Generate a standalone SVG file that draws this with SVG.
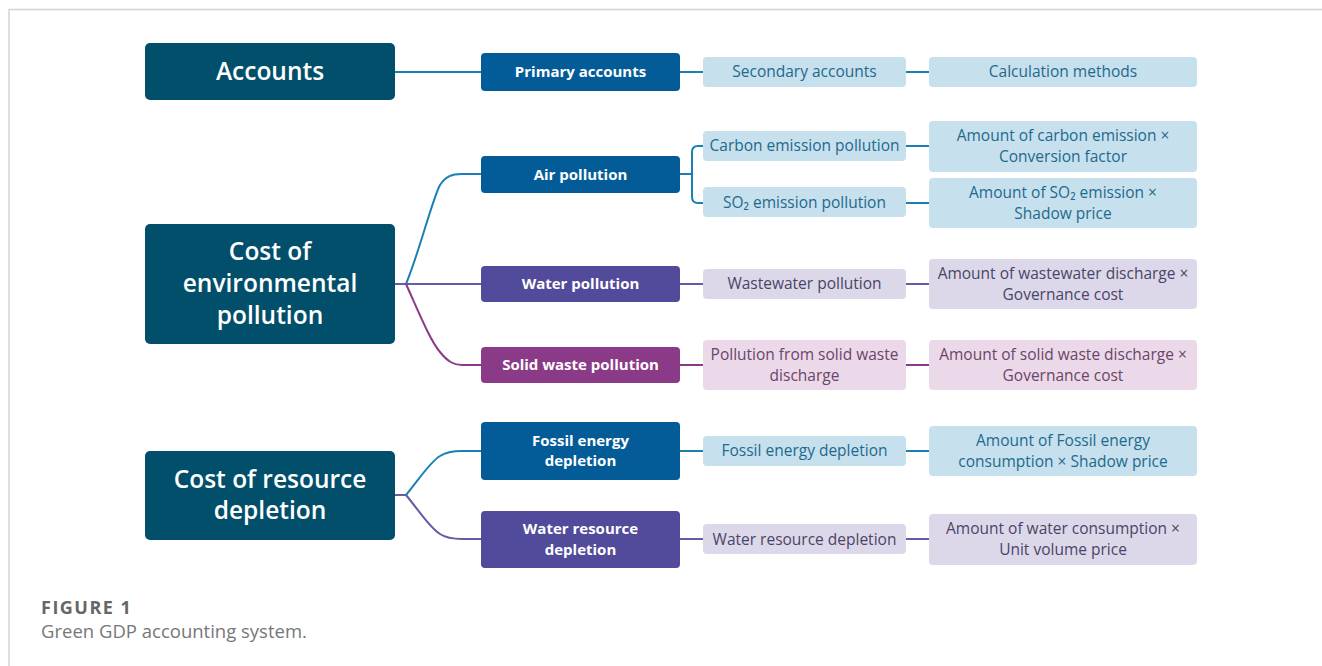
<svg xmlns="http://www.w3.org/2000/svg" width="1322" height="666" viewBox="0 0 1322 666">
<style>
text{font-family:"Open Sans","Liberation Sans",sans-serif;text-anchor:middle}
.root rect{fill:#024f6b}
.root text{fill:#fff;font-size:24.5px;font-weight:600}
.p text{fill:#fff;font-size:15px;font-weight:700}
.s text,.c text{font-size:15.5px}
.bl rect.n{fill:#035c98}
.pu rect.n{fill:#524a9a}
.mg rect.n{fill:#8a3a87}
.sb rect{fill:#c7e0ed}.sb text{fill:#1d6a8c}
.sp rect{fill:#ddd8e9}.sp text{fill:#4a4468}
.sm rect{fill:#ebd9ea}.sm text{fill:#6a4568}
.cb{fill:none;stroke:#1a80b3;stroke-width:2}
.cp{fill:none;stroke:#675aa6;stroke-width:2}
.cm{fill:none;stroke:#8a3a87;stroke-width:2}
</style>
<rect width="1322" height="666" fill="#fff"/>
<path d="M9 666V9.5H1322" fill="none" stroke="#d4d4d4" stroke-width="1.5"/>
<g id="connectors">
<path class="cb" d="M395 72H481M680 72H703M906 72H929"/>
<path class="cb" d="M406 284C420 250 432 200 440 185C446 176 452 174 462 174H481"/>
<path class="cp" d="M395 284H481"/>
<path class="cm" d="M406 284C420 315 430 340 440 352C448 362 454 365 462 365H481"/>
<path class="cb" d="M680 174H692M703 146H698Q692 146 692 152V197Q692 203 698 203H703M906 146H929M906 203H929"/>
<path class="cp" d="M680 284H703M906 284H929"/>
<path class="cm" d="M680 365H703M906 365H929"/>
<path class="cp" d="M395 495H406"/>
<path class="cb" d="M406 495C420 478 430 462 440 456C446 452 452 451 462 451H481M680 451H703M906 451H929"/>
<path class="cp" d="M406 495C420 512 430 528 440 534C446 538 452 539 462 539H481M680 539H703M906 539H929"/>
</g>
<g id="accounts" class="root"><rect x="145" y="43" width="250" height="57" rx="5"/><text x="270" y="80">Accounts</text></g>
<g id="env" class="root"><rect x="145" y="224" width="250" height="120" rx="5"/><text x="270" y="260">Cost of</text><text x="270" y="292">environmental</text><text x="270" y="324">pollution</text></g>
<g id="res" class="root"><rect x="145" y="451" width="250" height="89" rx="5"/><text x="270" y="488">Cost of resource</text><text x="270" y="519">depletion</text></g>

<g id="primary" class="p bl"><rect class="n" x="481" y="53" width="199" height="38" rx="4"/><text x="580.5" y="77">Primary accounts</text></g>
<g id="secondary" class="s sb"><rect x="703" y="57" width="203" height="30" rx="4"/><text x="804.5" y="77">Secondary accounts</text></g>
<g id="calc" class="c sb"><rect x="929" y="57" width="268" height="30" rx="4"/><text x="1063" y="77">Calculation methods</text></g>

<g id="air" class="p bl"><rect class="n" x="481" y="156" width="199" height="37" rx="4"/><text x="580.5" y="180">Air pollution</text></g>
<g id="carbon" class="s sb"><rect x="703" y="131" width="203" height="30" rx="4"/><text x="804.5" y="151">Carbon emission pollution</text></g>
<g id="so2" class="s sb"><rect x="703" y="187" width="203" height="30" rx="4"/><text x="804.5" y="208">SO₂ emission pollution</text></g>
<g id="carbonCalc" class="c sb"><rect x="929" y="121" width="268" height="51" rx="4"/><text x="1063" y="141">Amount of carbon emission ×</text><text x="1063" y="162">Conversion factor</text></g>
<g id="so2Calc" class="c sb"><rect x="929" y="178" width="268" height="50" rx="4"/><text x="1063" y="198">Amount of SO₂ emission ×</text><text x="1063" y="219">Shadow price</text></g>

<g id="water" class="p pu"><rect class="n" x="481" y="266" width="199" height="36" rx="4"/><text x="580.5" y="289">Water pollution</text></g>
<g id="wastewater" class="s sp"><rect x="703" y="269" width="203" height="30" rx="4"/><text x="804.5" y="289">Wastewater pollution</text></g>
<g id="wastewaterCalc" class="c sp"><rect x="929" y="259" width="268" height="50" rx="4"/><text x="1063" y="279">Amount of wastewater discharge ×</text><text x="1063" y="300">Governance cost</text></g>

<g id="solid" class="p mg"><rect class="n" x="481" y="347" width="199" height="36" rx="4"/><text x="580.5" y="370">Solid waste pollution</text></g>
<g id="solidSec" class="s sm"><rect x="703" y="340" width="203" height="50" rx="4"/><text x="804.5" y="360">Pollution from solid waste</text><text x="804.5" y="381">discharge</text></g>
<g id="solidCalc" class="c sm"><rect x="929" y="340" width="268" height="50" rx="4"/><text x="1063" y="360">Amount of solid waste discharge ×</text><text x="1063" y="381">Governance cost</text></g>

<g id="fossil" class="p bl"><rect class="n" x="481" y="422" width="199" height="58" rx="4"/><text x="580.5" y="446">Fossil energy</text><text x="580.5" y="466">depletion</text></g>
<g id="fossilSec" class="s sb"><rect x="703" y="436" width="203" height="30" rx="4"/><text x="804.5" y="456">Fossil energy depletion</text></g>
<g id="fossilCalc" class="c sb"><rect x="929" y="426" width="268" height="50" rx="4"/><text x="1063" y="446">Amount of Fossil energy</text><text x="1063" y="467">consumption × Shadow price</text></g>

<g id="waterRes" class="p pu"><rect class="n" x="481" y="511" width="199" height="57" rx="4"/><text x="580.5" y="534">Water resource</text><text x="580.5" y="555">depletion</text></g>
<g id="waterResSec" class="s sp"><rect x="703" y="524" width="203" height="30" rx="4"/><text x="804.5" y="545">Water resource depletion</text></g>
<g id="waterResCalc" class="c sp"><rect x="929" y="514" width="268" height="51" rx="4"/><text x="1063" y="534">Amount of water consumption ×</text><text x="1063" y="555">Unit volume price</text></g>

<text x="41" y="614" style="text-anchor:start;font-size:18px;font-weight:700;fill:#666;letter-spacing:1.5px">FIGURE 1</text>
<text x="41" y="638" style="text-anchor:start;font-size:18.5px;fill:#777">Green GDP accounting system.</text>
</svg>
